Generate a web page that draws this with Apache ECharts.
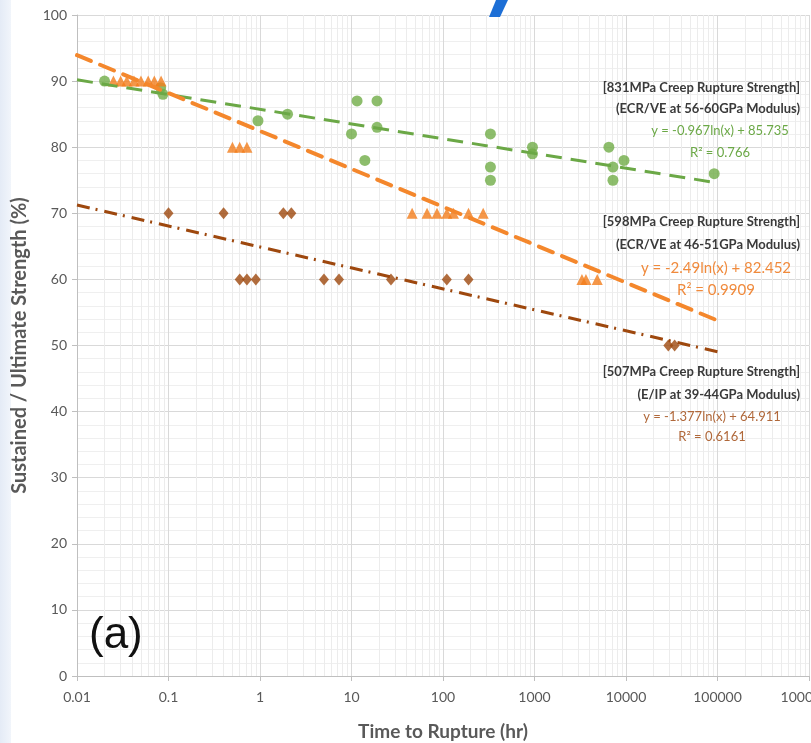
<!DOCTYPE html>
<html>
<head>
<meta charset="utf-8">
<script src="https://cdn.jsdelivr.net/npm/echarts@6/dist/echarts.min.js"></script>
<style>
html,body{margin:0;padding:0;background:#fff;}
#chart{width:811px;height:743px;}
</style>
</head>
<body>
<div id="chart"></div>
<script>
// ---- data ----
// 831MPa (ECR/VE 56-60GPa) - green circles
const greenX = [0.02, 0.082, 0.087, 0.95, 2, 10, 11.5, 14, 19, 19, 330, 330, 330, 950, 950, 6500, 7200, 7200, 9500, 92000];
const greenY = [90, 89, 88, 84, 85, 82, 87, 78, 87, 83, 82, 77, 75, 80, 79, 80, 77, 75, 78, 76];
// 598MPa (ECR/VE 46-51GPa) - orange triangles
const orangeX = [0.025, 0.03, 0.035, 0.042, 0.05, 0.06, 0.07, 0.083, 0.5, 0.6, 0.72, 46, 67, 86, 110, 130, 190, 275, 3300, 3650, 4850];
const orangeY = [90, 90, 90, 90, 90, 90, 90, 90, 80, 80, 80, 70, 70, 70, 70, 70, 70, 70, 60, 60, 60];
// 507MPa (E/IP 39-44GPa) - brown diamonds
const brownX = [0.1, 0.4, 1.8, 2.2, 0.6, 0.72, 0.9, 5, 7.3, 27, 110, 190, 29000, 34000];
const brownY = [70, 70, 70, 70, 60, 60, 60, 60, 60, 60, 60, 60, 50, 50];
// trend line end points (log fits as drawn)
const greenTrendX = [0.01, 100000];
const greenTrendY = [90.19, 74.6];
const orangeTrendX = [0.01, 100000];
const orangeTrendY = [93.92, 53.78];
const brownTrendX = [0.01, 100000];
const brownTrendY = [71.25, 49.06];
// axis ticks
const xMin = 0.01, xMax = 1000000;
const yTicks = [0, 10, 20, 30, 40, 50, 60, 70, 80, 90, 100];

const zip = (a, b) => a.map((v, i) => [v, b[i]]);

// minor log grid lines (2..9 in each decade)
const minorLines = [];
for (let e = -2; e < 6; e++) {
  for (let m = 2; m <= 9; m++) minorLines.push({xAxis: +(m * Math.pow(10, e)).toPrecision(6)});
}

const FONT = "Lato,'Open Sans','Liberation Sans',sans-serif";
const chart = echarts.init(document.getElementById('chart'), null, {renderer: 'canvas'});

chart.setOption({
  animation: false,
  backgroundColor: '#ffffff',
  grid: {left: 77, top: 15, right: 2, bottom: 67, containLabel: false, outerBoundsMode: 'none'},
  xAxis: {
    type: 'log', logBase: 10, min: xMin, max: xMax,
    name: 'Time to Rupture (hr)', nameLocation: 'middle', nameGap: 46,
    nameTextStyle: {color: '#595959', fontSize: 19, fontWeight: 'bold', fontFamily: FONT},
    axisLine: {show: true, lineStyle: {color: '#bfbfbf', width: 1}},
    axisTick: {show: true, length: 5, lineStyle: {color: '#bfbfbf'}},
    axisLabel: {color: '#595959', fontSize: 14, fontFamily: FONT, margin: 14, hideOverlap: false,
      showMaxLabel: true, showMinLabel: true,
      formatter: v => String(+(+v).toPrecision(6))},
    splitLine: {show: true, lineStyle: {color: '#d9d9d9', width: 1}},
    minorTick: {show: false}, minorSplitLine: {show: false}
  },
  yAxis: {
    type: 'value', min: yTicks[0], max: yTicks[yTicks.length - 1], interval: 10,
    name: 'Sustained / Ultimate Strength (%)', nameLocation: 'middle', nameGap: 47,
    nameTextStyle: {color: '#595959', fontSize: 20, fontWeight: 'bold', fontFamily: FONT},
    axisLine: {show: true, lineStyle: {color: '#bfbfbf', width: 1}},
    axisTick: {show: true, length: 5, lineStyle: {color: '#bfbfbf'}},
    axisLabel: {color: '#595959', fontSize: 14, fontFamily: FONT, margin: 10},
    splitLine: {show: true, lineStyle: {color: '#d9d9d9', width: 1}},
    minorTick: {show: false, splitNumber: 5},
    minorSplitLine: {show: true, lineStyle: {color: '#efefef', width: 1}}
  },
  series: [
    {type: 'line', data: [], z: 0, silent: true,
      markLine: {silent: true, z: 0, symbol: ['none', 'none'], label: {show: false},
        emphasis: {disabled: true},
        lineStyle: {color: '#ececec', width: 1, type: 'solid'}, data: minorLines}},
    {name: '831', type: 'scatter', data: zip(greenX, greenY), symbol: 'circle', symbolSize: 11,
      itemStyle: {color: '#70AD47'}, z: 8},
    {name: '598', type: 'scatter', data: zip(orangeX, orangeY), symbol: 'triangle', symbolSize: 11,
      itemStyle: {color: '#F27D1C'}, z: 8},
    {name: '507', type: 'scatter', data: zip(brownX, brownY), symbol: 'diamond', symbolSize: [10, 12],
      itemStyle: {color: '#9E480E'}, z: 8},
    {type: 'line', data: zip(greenTrendX, greenTrendY), showSymbol: false, symbol: 'none', z: 10,
      lineStyle: {color: '#6BA846', width: 3, type: [16, 9], cap: 'butt'}},
    {type: 'line', data: zip(orangeTrendX, orangeTrendY), showSymbol: false, symbol: 'none', z: 10,
      lineStyle: {color: '#F4872C', width: 4, type: [15, 10], cap: 'round'}},
    {type: 'line', data: zip(brownTrendX, brownTrendY), showSymbol: false, symbol: 'none', z: 10,
      lineStyle: {color: '#9E480E', width: 3, type: [13, 6, 2, 7], cap: 'butt'}}
  ],
  graphic: [
    {type: 'rect', left: 0, top: 0, z: -10, silent: true,
      shape: {width: 11, height: 743},
      style: {fill: new echarts.graphic.LinearGradient(0, 0, 1, 0, [{offset: 0, color: '#e4ebf6'}, {offset: 1, color: '#f1f5fb'}])}},
    {type: 'polygon', z: 20, silent: true,
      shape: {points: [[496, 0], [508, 0], [500, 17], [489, 17]]}, style: {fill: '#1d6fd6'}},
    {type: 'text', left: 89, top: 614, z: 20, style: {text: '(a)', fill: '#111', font: "44px 'Liberation Sans', Arial, sans-serif"}},
    // 831 block
    {type: 'text', x: 800, y: 88, z: 20, style: {text: '[831MPa Creep Rupture Strength]', fill: '#3a3a3a', font: "bold 13px " + FONT, textAlign: 'right', textVerticalAlign: 'middle'}},
    {type: 'text', x: 800, y: 109, z: 20, style: {text: '(ECR/VE at 56-60GPa Modulus)', fill: '#3a3a3a', font: "bold 13px " + FONT, textAlign: 'right', textVerticalAlign: 'middle'}},
    {type: 'text', x: 720, y: 131, z: 20, style: {text: 'y = -0.967ln(x) + 85.735', fill: '#6BA846', font: "13px " + FONT, textAlign: 'center', textVerticalAlign: 'middle'}},
    {type: 'text', x: 720, y: 153, z: 20, style: {text: 'R² = 0.766', fill: '#6BA846', font: "13px " + FONT, textAlign: 'center', textVerticalAlign: 'middle'}},
    // 598 block
    {type: 'text', x: 800, y: 222, z: 20, style: {text: '[598MPa Creep Rupture Strength]', fill: '#3a3a3a', font: "bold 13px " + FONT, textAlign: 'right', textVerticalAlign: 'middle'}},
    {type: 'text', x: 800, y: 245, z: 20, style: {text: '(ECR/VE at 46-51GPa Modulus)', fill: '#3a3a3a', font: "bold 13px " + FONT, textAlign: 'right', textVerticalAlign: 'middle'}},
    {type: 'text', x: 716, y: 268, z: 20, style: {text: 'y = -2.49ln(x) + 82.452', fill: '#F08A3C', font: "15px " + FONT, textAlign: 'center', textVerticalAlign: 'middle'}},
    {type: 'text', x: 716, y: 290, z: 20, style: {text: 'R² = 0.9909', fill: '#F08A3C', font: "15px " + FONT, textAlign: 'center', textVerticalAlign: 'middle'}},
    // 507 block
    {type: 'text', x: 800, y: 372, z: 20, style: {text: '[507MPa Creep Rupture Strength]', fill: '#3a3a3a', font: "bold 13px " + FONT, textAlign: 'right', textVerticalAlign: 'middle'}},
    {type: 'text', x: 800, y: 395, z: 20, style: {text: '(E/IP at 39-44GPa Modulus)', fill: '#3a3a3a', font: "bold 13px " + FONT, textAlign: 'right', textVerticalAlign: 'middle'}},
    {type: 'text', x: 712, y: 417, z: 20, style: {text: 'y = -1.377ln(x) + 64.911', fill: '#B0683A', font: "13px " + FONT, textAlign: 'center', textVerticalAlign: 'middle'}},
    {type: 'text', x: 712, y: 437, z: 20, style: {text: 'R² = 0.6161', fill: '#B0683A', font: "13px " + FONT, textAlign: 'center', textVerticalAlign: 'middle'}}
  ]
});
</script>
</body>
</html>
